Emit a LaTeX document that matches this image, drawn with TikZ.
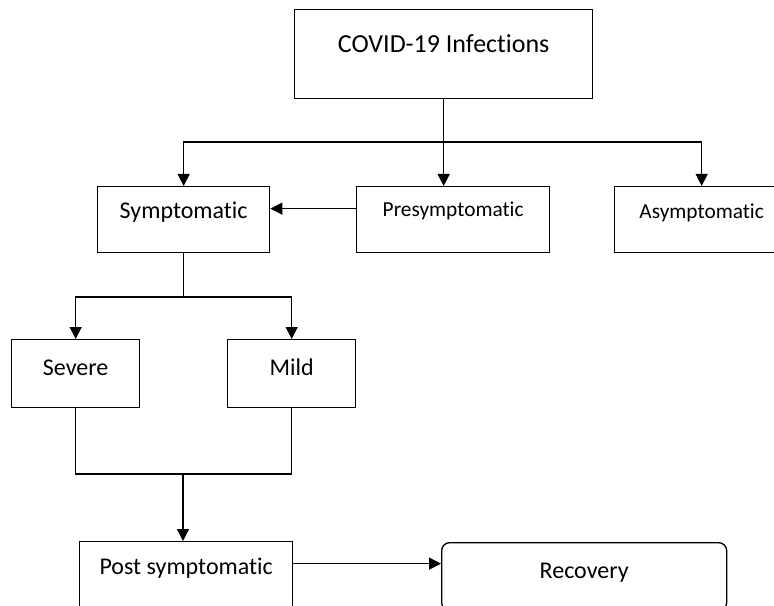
\documentclass[tikz,border=0pt]{standalone}
\usepackage{fontspec}
\setmainfont{Carlito}[Ligatures=NoCommon]
\usetikzlibrary{arrows.meta}

\tikzset{
  box/.style={draw, line width=1pt, inner sep=0pt, anchor=north west, font=\fontsize{18}{20}\selectfont},
  smallbox/.style={box, font=\fontsize{16}{18}\selectfont},
  line/.style={draw, line width=1pt},
  arr/.style={line, -{Triangle[length=9pt,width=9pt]}}
}

\begin{document}
\begin{tikzpicture}[x=0.75pt,y=0.75pt,yscale=-1,xscale=1]
\useasboundingbox (0,0) rectangle (774,606);
\clip (0,0) rectangle (774,606);

%Shape: Rectangle [id:covid] 
\node [box, font=\fontsize{19.5}{22}\selectfont, minimum width=223.5pt, text height=32.25pt, text depth=34.5pt] (covid) at (294,9) {COVID-19 Infections};

%Shape: Rectangle [id:symp] 
\node [box, minimum width=129pt, text height=24pt, text depth=25.5pt] (symp) at (97,186) {Symptomatic};
%Shape: Rectangle [id:presymp] 
\node [smallbox, minimum width=144.75pt, text height=22.5pt, text depth=27pt] (presymp) at (356,186) {Presymptomatic};
%Shape: Rectangle [id:asymp] 
\node [smallbox, minimum width=130.5pt, text height=24pt, text depth=25.5pt] (asymp) at (614,186) {Asymptomatic};

%Shape: Rectangle [id:severe] 
\node [box, minimum width=96pt, text height=27pt, text depth=24pt] (severe) at (11,339) {Severe};
%Shape: Rectangle [id:mild] 
\node [box, minimum width=96pt, text height=27pt, text depth=24pt] (mild) at (227,339) {Mild};

%Shape: Rectangle [id:post] 
\node [box, minimum width=159.75pt, text height=24.75pt, text depth=27pt] (post) at (79,541) {Post symptomatic};
%Shape: Rounded Rect [id:recov] 
\node [box, rounded corners=6pt, minimum width=213.75pt, text height=27pt, text depth=24pt] (recov) at (441,542) {Recovery};

\coordinate (split1) at (443,142);
\coordinate (split2) at (183,297);
\coordinate (join) at (183,474);

%Straight Lines [id:top] 
\draw [arr] (covid.south) -- (covid.south |- presymp.north);
\draw [arr] (split1) -| (symp.north);
\draw [arr] (split1) -| (asymp.north);
\draw [arr] ([yshift=-8.25pt]presymp.west) -- ([yshift=-8.25pt]symp.east);

%Straight Lines [id:middle] 
\draw [line] (symp.south) -- (symp.south |- split2);
\draw [arr] (symp.south |- split2) -| (severe.north);
\draw [arr] (symp.south |- split2) -| (mild.north);

%Straight Lines [id:bottom] 
\draw [line] (severe.south) |- (join) -| (mild.south);
\draw [arr] (join) -- (join |- post.north);
\draw [arr] ([yshift=-9.4pt]post.east) -- ([yshift=-9.4pt]post.east -| recov.west);

\end{tikzpicture}
\end{document}
